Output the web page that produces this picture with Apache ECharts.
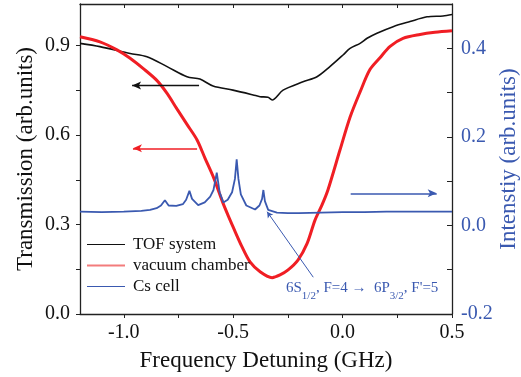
<!DOCTYPE html>
<html><head><meta charset="utf-8">
<script src="https://cdn.jsdelivr.net/npm/echarts@6/dist/echarts.min.js"></script>
<style>html,body{margin:0;padding:0;background:#fff}#c{width:521px;height:377px}</style>
</head><body><div id="c"></div>
<script>
// TOF system (left axis)
const tofX = [-1.20,-1.109,-0.971,-0.894,-0.802,-0.711,-0.652,-0.592,-0.501,-0.409,-0.377,-0.341,-0.322,-0.272,-0.181,-0.117,-0.058,0.002,0.034,0.080,0.112,0.157,0.231,0.308,0.386,0.459,0.500];
const tofY = [0.908,0.897,0.874,0.863,0.830,0.796,0.788,0.765,0.751,0.735,0.729,0.727,0.718,0.751,0.779,0.796,0.830,0.869,0.891,0.908,0.925,0.942,0.964,0.981,0.997,1.000,1.005];
// vacuum chamber (left axis)
const vacX = [-1.20,-1.109,-1.031,-0.971,-0.912,-0.848,-0.802,-0.757,-0.711,-0.665,-0.629,-0.588,-0.546,-0.514,-0.501,-0.460,-0.423,-0.377,-0.322,-0.286,-0.249,-0.204,-0.162,-0.126,-0.094,-0.067,-0.012,0.034,0.080,0.125,0.171,0.217,0.276,0.354,0.422,0.500];
const vacY = [0.930,0.913,0.886,0.858,0.824,0.783,0.740,0.688,0.636,0.584,0.523,0.455,0.371,0.315,0.293,0.226,0.175,0.142,0.122,0.131,0.148,0.181,0.237,0.315,0.366,0.416,0.550,0.660,0.745,0.820,0.860,0.898,0.925,0.938,0.945,0.950];
// Cs cell (right axis)
const csX = [-1.20,-1.10,-1.00,-0.92,-0.88,-0.85,-0.83,-0.812,-0.795,-0.76,-0.73,-0.715,-0.700,-0.688,-0.66,-0.63,-0.605,-0.59,-0.575,-0.562,-0.545,-0.525,-0.505,-0.492,-0.484,-0.476,-0.465,-0.44,-0.40,-0.38,-0.368,-0.362,-0.355,-0.34,-0.30,-0.25,-0.20,-0.10,0.00,0.10,0.20,0.30,0.40,0.50];
const csY = [0.031,0.030,0.031,0.033,0.035,0.039,0.045,0.057,0.045,0.044,0.048,0.058,0.078,0.060,0.046,0.052,0.065,0.080,0.119,0.075,0.052,0.058,0.075,0.105,0.149,0.105,0.070,0.045,0.036,0.045,0.060,0.080,0.055,0.035,0.029,0.028,0.028,0.029,0.030,0.030,0.031,0.031,0.031,0.031];

const xLabels = [-1.0,-0.5,0.0,0.5];
const xTicks = [-1.0,-0.75,-0.5,-0.25,0.0,0.25,0.5];
const leftLabels = [0.0,0.3,0.6,0.9];
const leftTicks = [0.0,0.15,0.3,0.45,0.6,0.75,0.9];
const rightLabels = [-0.2,0.0,0.2,0.4];
const rightTicks = [-0.2,-0.1,0.0,0.1,0.2,0.3,0.4];

// annotation arrows (data coordinates)
const tofArrow = [[-0.656,0.767],[-0.962,0.767]];
const vacArrow = [[-0.665,0.556],[-0.958,0.556]];
const csArrow = [[0.037,0.0725],[0.430,0.0725]];
const csPointer = [[-0.134,-0.117],[-0.345,0.031]];

const zip = (a,b) => a.map((v,i)=>[v,b[i]]);
const FONT = '"Liberation Serif", "Times New Roman", serif';
const BLUE = '#3a59b0';
const AX = '#222';

const chart = echarts.init(document.getElementById('c'), null, {renderer:'canvas'});
const mk = (pts, color, width) => ({
  silent:true, animation:false, symbol:['none','arrow'], symbolSize:[6,9],
  label:{show:false}, emphasis:{disabled:true},
  lineStyle:{color:color, width:width, type:'solid'},
  data:[[{coord:pts[0]},{coord:pts[1]}]]
});
const fmt = v => v.toFixed(1);
chart.setOption({
  animation:false,
  grid:{left:80, right:69, top:4, bottom:63, containLabel:false, outerBoundsMode:'none'},
  legend:{
    orient:'vertical', left:81, top:231, itemWidth:38, itemHeight:12, itemGap:4,
    textStyle:{fontFamily:FONT, fontSize:17, color:'#111', padding:[0,0,0,3]},
    data:[
      {name:'TOF system', itemStyle:{color:'#111', opacity:0}, lineStyle:{color:'#111', width:1.2}},
      {name:'vacuum chamber', itemStyle:{color:'#f37c7c', opacity:0}, lineStyle:{color:'#f37c7c', width:2}},
      {name:'Cs cell', itemStyle:{color:BLUE, opacity:0}, lineStyle:{color:BLUE, width:1.2}}
    ]
  },
  xAxis:[{
    type:'value', min:-1.2, max:0.5, position:'bottom',
    name:'Frequency Detuning (GHz)', nameLocation:'middle', nameGap:35, nameMoveOverlap:false,
    nameTextStyle:{fontFamily:FONT, fontSize:23, color:'#111'},
    axisLine:{show:true, onZero:false, lineStyle:{color:AX, width:1.3}},
    axisTick:{show:true, customValues:xTicks, length:4, lineStyle:{color:AX}},
    axisLabel:{customValues:xLabels, formatter:fmt, margin:9, fontFamily:FONT, fontSize:20, color:'#111'},
    splitLine:{show:false}
  },{
    type:'value', min:-1.2, max:0.5, position:'top',
    axisLine:{show:true, onZero:false, lineStyle:{color:AX, width:1.3}},
    axisTick:{show:true, inside:true, customValues:xTicks, length:4, lineStyle:{color:AX}},
    axisLabel:{show:false}, splitLine:{show:false}
  }],
  yAxis:[{
    type:'value', min:0, max:1.04, position:'left',
    name:'Transmission (arb.units)', nameLocation:'middle', nameGap:43, nameRotate:90, nameMoveOverlap:false,
    nameTextStyle:{fontFamily:FONT, fontSize:23, color:'#111'},
    axisLine:{show:true, onZero:false, lineStyle:{color:AX, width:1.3}},
    axisTick:{show:true, customValues:leftTicks, length:4, lineStyle:{color:AX}},
    axisLabel:{customValues:leftLabels, formatter:fmt, margin:10, fontFamily:FONT, fontSize:20, color:'#111'},
    splitLine:{show:false}
  },{
    type:'value', min:-0.2, max:0.5, position:'right',
    name:'Intenstiy (arb.units)', nameLocation:'middle', nameGap:45, nameRotate:90, nameMoveOverlap:false,
    nameTextStyle:{fontFamily:FONT, fontSize:23, color:BLUE},
    axisLine:{show:true, onZero:false, lineStyle:{color:AX, width:1.3}},
    axisTick:{show:true, inside:true, customValues:rightTicks, length:5, lineStyle:{color:AX}},
    axisLabel:{customValues:rightLabels, formatter:fmt, margin:9, fontFamily:FONT, fontSize:20, color:BLUE},
    splitLine:{show:false}
  }],
  series:[
    {name:'TOF system', type:'line', xAxisIndex:0, yAxisIndex:0, data:zip(tofX,tofY), symbol:'none', smooth:0.3,
     lineStyle:{color:'#111', width:1.6}, itemStyle:{color:'#111'}, z:2, markLine:mk(tofArrow,'#111',1.3)},
    {name:'vacuum chamber', type:'line', xAxisIndex:0, yAxisIndex:0, data:zip(vacX,vacY), symbol:'none', smooth:0.3,
     lineStyle:{color:'#f01e24', width:3}, itemStyle:{color:'#f01e24'}, z:3, markLine:mk(vacArrow,'#f01e24',1.5)},
    {name:'Cs cell', type:'line', xAxisIndex:0, yAxisIndex:1, data:zip(csX,csY), symbol:'none',
     lineStyle:{color:BLUE, width:1.8}, itemStyle:{color:BLUE}, z:4, markLine:mk(csArrow,BLUE,1.5)},
    {name:'pointer', type:'line', xAxisIndex:0, yAxisIndex:1, data:[], symbol:'none',
     markLine:Object.assign(mk(csPointer,BLUE,1), {symbolSize:[5,6]})}
  ],
  graphic:[{
    type:'text', left:286, top:281, silent:true,
    style:{
      text:'{n|6S}{s|1/2}{n|, F=4 \u2192  6P}{s|3/2}{n|, F\'=5}',
      fontFamily:FONT, fontSize:15, fill:BLUE,
      rich:{
        n:{fontFamily:FONT, fontSize:15, lineHeight:21, color:BLUE, verticalAlign:'top'},
        s:{fontFamily:FONT, fontSize:11, lineHeight:11, color:BLUE, verticalAlign:'bottom'}
      }
    }
  }]
});
</script></body></html>
